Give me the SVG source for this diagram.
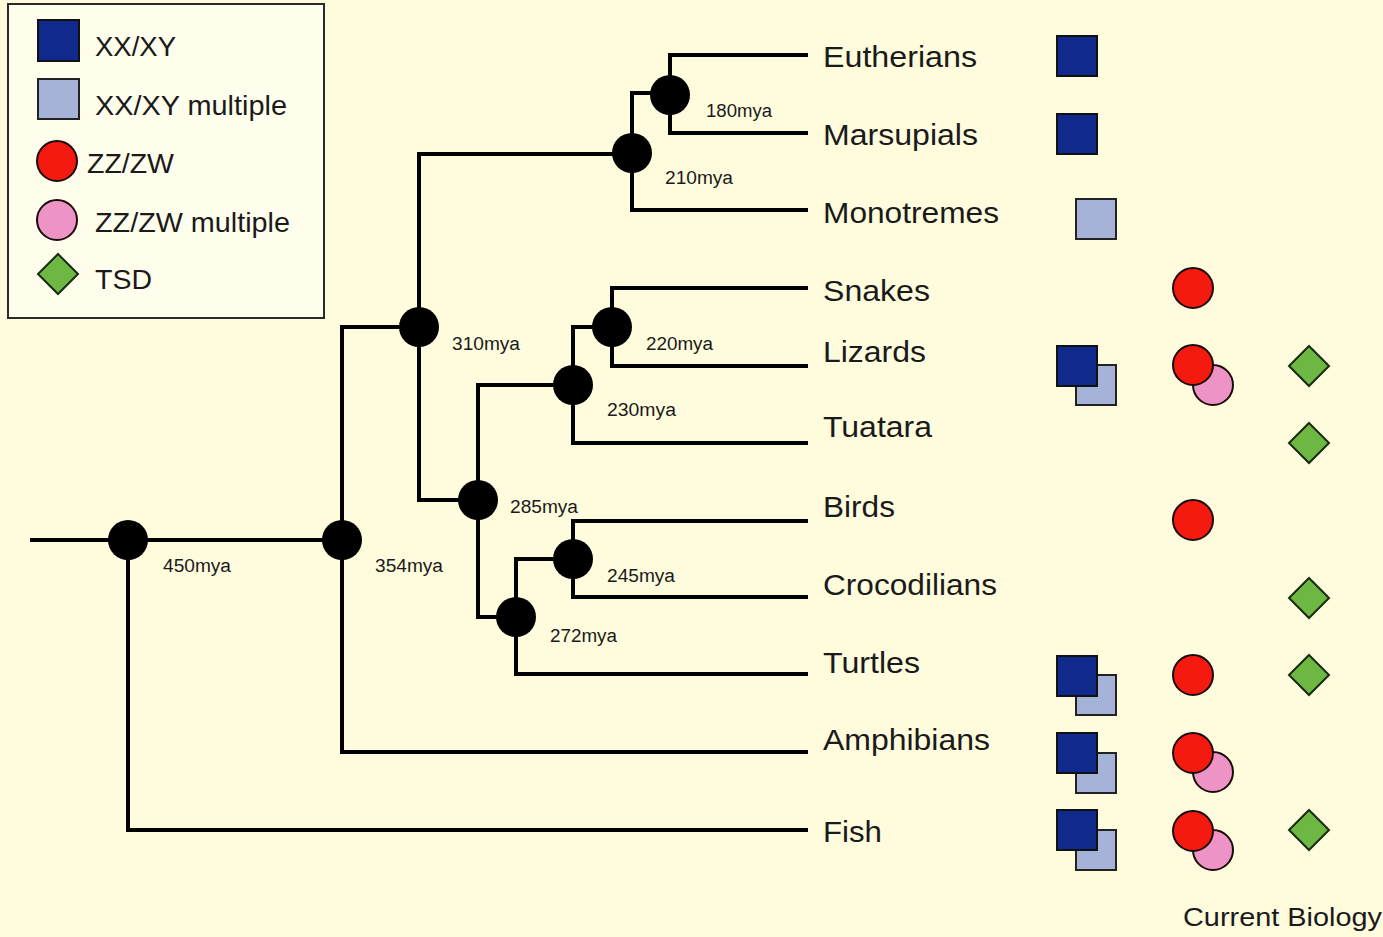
<svg xmlns="http://www.w3.org/2000/svg" width="1383" height="937" viewBox="0 0 1383 937">
<defs>
<style>
.bg{fill:#FFFCDD}
.legend{fill:#FFFEEC;stroke:#2a2a2a;stroke-width:2}
.lt{font-family:"Liberation Sans",Arial,sans-serif;font-size:28px;fill:#1a1a1a}
.tx{font-family:"Liberation Sans",Arial,sans-serif;font-size:29px;fill:#1a1a1a}
.my{font-family:"Liberation Sans",Arial,sans-serif;font-size:18px;fill:#1a1a1a}
.cb{font-family:"Liberation Sans",Arial,sans-serif;font-size:26px;fill:#1a1a1a}
.br{fill:none;stroke:#000;stroke-width:4;stroke-linejoin:miter}
.nd{fill:#000}
.xy{fill:#0F2A8C;stroke:#111;stroke-width:2}
.xym{fill:#A5B3D9;stroke:#222;stroke-width:2}
.zw{fill:#F51A10;stroke:#1a0a0a;stroke-width:2}
.zwm{fill:#EE93C6;stroke:#1a0a0a;stroke-width:2}
.tsd{fill:#6CB843;stroke:#1a2a10;stroke-width:2}
</style>
<rect id="sq" width="40" height="40"/>
<polygon id="dm" points="0,-20 20,0 0,20 -20,0"/>
</defs>
<rect class="bg" x="0" y="0" width="1383" height="937"/>

<g id="legend">
<rect class="legend" x="8" y="4" width="316" height="314"/>
<rect class="xy" x="38" y="20" width="41" height="41"/>
<text class="lt" x="95" y="56" textLength="81" lengthAdjust="spacingAndGlyphs">XX/XY</text>
<rect class="xym" x="38" y="79" width="41" height="40"/>
<text class="lt" x="95" y="115" textLength="192" lengthAdjust="spacingAndGlyphs">XX/XY multiple</text>
<circle class="zw" cx="57" cy="161" r="20"/>
<text class="lt" x="87" y="173" textLength="87" lengthAdjust="spacingAndGlyphs">ZZ/ZW</text>
<circle class="zwm" cx="57" cy="220" r="20"/>
<text class="lt" x="95" y="232" textLength="195" lengthAdjust="spacingAndGlyphs">ZZ/ZW multiple</text>
<polygon class="tsd" points="58,254 78,274 58,294 38,274"/>
<text class="lt" x="95" y="289" textLength="57" lengthAdjust="spacingAndGlyphs">TSD</text>
</g>

<g id="connectors">
<path class="br" d="M30,540 H342"/>
<path class="br" d="M808,830 H128 V540"/>
<path class="br" d="M808,752 H342 V327 H419"/>
<path class="br" d="M478,500 H419 V154 H632"/>
<path class="br" d="M808,210 H632 V93 H670"/>
<path class="br" d="M808,133 H670 V55 H808"/>
<path class="br" d="M516,617 H478 V385 H573"/>
<path class="br" d="M808,443 H573 V327 H612"/>
<path class="br" d="M808,366 H612 V288 H808"/>
<path class="br" d="M808,674 H516 V559 H573"/>
<path class="br" d="M808,597 H573 V521 H808"/>
</g>

<g id="node-450"><circle class="nd" cx="128" cy="540" r="20"/><text class="my" x="163" y="572" textLength="68" lengthAdjust="spacingAndGlyphs">450mya</text></g>
<g id="node-354"><circle class="nd" cx="342" cy="540" r="20"/><text class="my" x="375" y="572" textLength="68" lengthAdjust="spacingAndGlyphs">354mya</text></g>
<g id="node-310"><circle class="nd" cx="419" cy="327" r="20"/><text class="my" x="452" y="350" textLength="68" lengthAdjust="spacingAndGlyphs">310mya</text></g>
<g id="node-210"><circle class="nd" cx="632" cy="153" r="20"/><text class="my" x="665" y="184" textLength="68" lengthAdjust="spacingAndGlyphs">210mya</text></g>
<g id="node-180"><circle class="nd" cx="670" cy="95" r="20"/><text class="my" x="706" y="117" textLength="66" lengthAdjust="spacingAndGlyphs">180mya</text></g>
<g id="node-285"><circle class="nd" cx="478" cy="500" r="20"/><text class="my" x="510" y="513" textLength="68" lengthAdjust="spacingAndGlyphs">285mya</text></g>
<g id="node-230"><circle class="nd" cx="573" cy="385" r="20"/><text class="my" x="607" y="416" textLength="69" lengthAdjust="spacingAndGlyphs">230mya</text></g>
<g id="node-220"><circle class="nd" cx="612" cy="327" r="20"/><text class="my" x="646" y="350" textLength="67" lengthAdjust="spacingAndGlyphs">220mya</text></g>
<g id="node-272"><circle class="nd" cx="516" cy="617" r="20"/><text class="my" x="550" y="642" textLength="67" lengthAdjust="spacingAndGlyphs">272mya</text></g>
<g id="node-245"><circle class="nd" cx="573" cy="559" r="20"/><text class="my" x="607" y="582" textLength="68" lengthAdjust="spacingAndGlyphs">245mya</text></g>

<g id="taxon-eutherians">
<text class="tx" x="823" y="67" textLength="154" lengthAdjust="spacingAndGlyphs">Eutherians</text>
<use href="#sq" class="xy" x="1057" y="36"/>
</g>
<g id="taxon-marsupials">
<text class="tx" x="823" y="145" textLength="155" lengthAdjust="spacingAndGlyphs">Marsupials</text>
<use href="#sq" class="xy" x="1057" y="114"/>
</g>
<g id="taxon-monotremes">
<text class="tx" x="823" y="223" textLength="176" lengthAdjust="spacingAndGlyphs">Monotremes</text>
<use href="#sq" class="xym" x="1076" y="199"/>
</g>
<g id="taxon-snakes">
<text class="tx" x="823" y="301" textLength="107" lengthAdjust="spacingAndGlyphs">Snakes</text>
<circle class="zw" cx="1193" cy="288" r="20"/>
</g>
<g id="taxon-lizards">
<text class="tx" x="823" y="362" textLength="103" lengthAdjust="spacingAndGlyphs">Lizards</text>
<use href="#sq" class="xym" x="1076" y="365"/>
<use href="#sq" class="xy" x="1057" y="346"/>
<circle class="zwm" cx="1213" cy="385" r="20"/>
<circle class="zw" cx="1193" cy="365" r="20"/>
<use href="#dm" class="tsd" x="1309" y="366"/>
</g>
<g id="taxon-tuatara">
<text class="tx" x="823" y="437" textLength="109" lengthAdjust="spacingAndGlyphs">Tuatara</text>
<use href="#dm" class="tsd" x="1309" y="443"/>
</g>
<g id="taxon-birds">
<text class="tx" x="823" y="517" textLength="72" lengthAdjust="spacingAndGlyphs">Birds</text>
<circle class="zw" cx="1193" cy="520" r="20"/>
</g>
<g id="taxon-crocodilians">
<text class="tx" x="823" y="595" textLength="174" lengthAdjust="spacingAndGlyphs">Crocodilians</text>
<use href="#dm" class="tsd" x="1309" y="598"/>
</g>
<g id="taxon-turtles">
<text class="tx" x="823" y="673" textLength="97" lengthAdjust="spacingAndGlyphs">Turtles</text>
<use href="#sq" class="xym" x="1076" y="675"/>
<use href="#sq" class="xy" x="1057" y="656"/>
<circle class="zw" cx="1193" cy="675" r="20"/>
<use href="#dm" class="tsd" x="1309" y="675"/>
</g>
<g id="taxon-amphibians">
<text class="tx" x="823" y="750" textLength="167" lengthAdjust="spacingAndGlyphs">Amphibians</text>
<use href="#sq" class="xym" x="1076" y="753"/>
<use href="#sq" class="xy" x="1057" y="733"/>
<circle class="zwm" cx="1213" cy="772" r="20"/>
<circle class="zw" cx="1193" cy="753" r="20"/>
</g>
<g id="taxon-fish">
<text class="tx" x="823" y="842" textLength="59" lengthAdjust="spacingAndGlyphs">Fish</text>
<use href="#sq" class="xym" x="1076" y="830"/>
<use href="#sq" class="xy" x="1057" y="810"/>
<circle class="zwm" cx="1213" cy="850" r="20"/>
<circle class="zw" cx="1193" cy="831" r="20"/>
<use href="#dm" class="tsd" x="1309" y="830"/>
</g>

<text class="cb" x="1183" y="926" textLength="199" lengthAdjust="spacingAndGlyphs">Current Biology</text>
</svg>
